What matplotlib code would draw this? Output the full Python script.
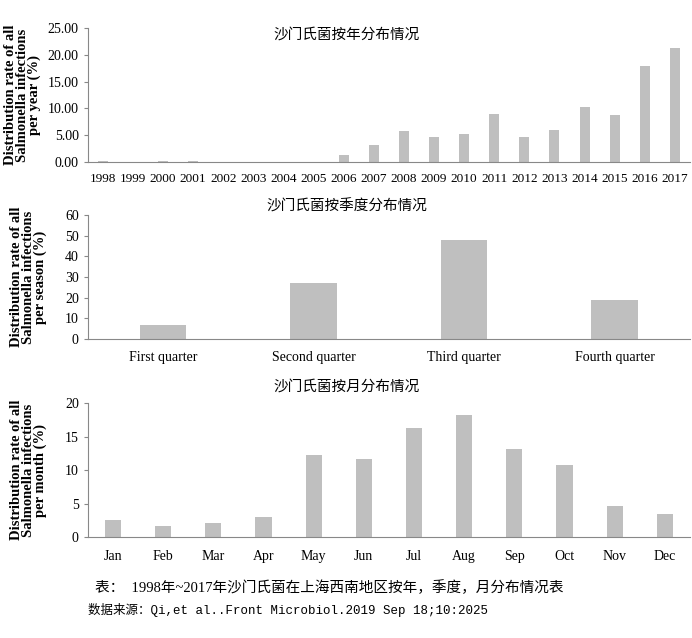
import matplotlib
matplotlib.use('Agg')
import matplotlib.pyplot as plt
from matplotlib.ticker import FormatStrFormatter

plt.rcParams['font.family'] = ['Liberation Serif', 'Noto Sans CJK SC']

# data
years = [str(y) for y in range(1998, 2018)]
year_rate = [0.25, 0.1, 0.25, 0.25, 0.1, 0.0, 0.1, 0.0, 1.4, 3.2,
             5.8, 4.6, 5.3, 9.0, 4.6, 6.0, 10.2, 8.8, 18.0, 21.2]
quarters = ['First quarter', 'Second quarter', 'Third quarter', 'Fourth quarter']
quarter_rate = [6.5, 26.8, 47.7, 19.0]
months = ['Jan', 'Feb', 'Mar', 'Apr', 'May', 'Jun',
          'Jul', 'Aug', 'Sep', 'Oct', 'Nov', 'Dec']
month_rate = [2.6, 1.7, 2.1, 3.0, 12.2, 11.7, 16.3, 18.2, 13.2, 10.8, 4.6, 3.5]

bar_color = '#bfbfbf'
fig = plt.figure(figsize=(6.92, 6.38), dpi=100)

# titles are centred on the figure, not on the axes
title_x = 0.43


def style(ax):
    for s in ['top', 'right']:
        ax.spines[s].set_visible(False)
    ax.spines['left'].set_color('#888888')
    ax.spines['bottom'].set_color('#888888')
    ax.tick_params(axis='x', length=0, labelsize=10, pad=9)
    ax.tick_params(axis='y', length=3, color='#888888', labelsize=10)


# yearly
ax1 = fig.add_axes([0.127, 0.746, 0.87, 0.21])
ax1.bar(years, year_rate, width=0.33, color=bar_color)
ax1.set_ylim(0, 25)
ax1.set_yticks([0, 5, 10, 15, 20, 25])
ax1.yaxis.set_major_formatter(FormatStrFormatter('%.2f'))
ax1.set_xlim(-0.5, len(years) - 0.5)
style(ax1)
ax1.tick_params(axis='x', labelsize=9.5, pad=8)
ax1.set_title('沙门氏菌按年分布情况', fontsize=10.5, x=title_x, y=0.86)
ax1.set_ylabel('Distribution rate of all\nSalmonella infections\nper year (%)',
               fontsize=10.5, fontweight='bold', linespacing=0.85, labelpad=5)

# quarterly
ax2 = fig.add_axes([0.127, 0.469, 0.87, 0.194])
ax2.bar(quarters, quarter_rate, width=0.31, color=bar_color)
ax2.set_ylim(0, 60)
ax2.set_yticks(range(0, 61, 10))
ax2.set_xlim(-0.5, len(quarters) - 0.5)
style(ax2)
ax2.set_title('沙门氏菌按季度分布情况', fontsize=10.5, x=title_x, pad=3)
ax2.set_ylabel('Distribution rate of all\nSalmonella infections\nper season (%)',
               fontsize=10.5, fontweight='bold', linespacing=0.85, labelpad=13)

# monthly
ax3 = fig.add_axes([0.127, 0.158, 0.87, 0.21])
ax3.bar(months, month_rate, width=0.32, color=bar_color)
ax3.set_ylim(0, 20)
ax3.set_yticks([0, 5, 10, 15, 20])
ax3.set_xlim(-0.5, len(months) - 0.5)
style(ax3)
ax3.set_title('沙门氏菌按月分布情况', fontsize=10.5, x=title_x, pad=9)
ax3.set_ylabel('Distribution rate of all\nSalmonella infections\nper month (%)',
               fontsize=10.5, fontweight='bold', linespacing=0.85, labelpad=13)

fig.text(0.137, 1 - 588 / 638, '表：  1998年~2017年沙门氏菌在上海西南地区按年，季度，月分布情况表',
         fontsize=10.5, va='center')
fig.text(0.127, 1 - 610 / 638, '数据来源：Qi,et al..Front Microbiol.2019 Sep 18;10:2025',
         fontsize=9, va='center', family=['Liberation Mono', 'Noto Sans CJK SC'])

fig.savefig('out.png', dpi=100)
